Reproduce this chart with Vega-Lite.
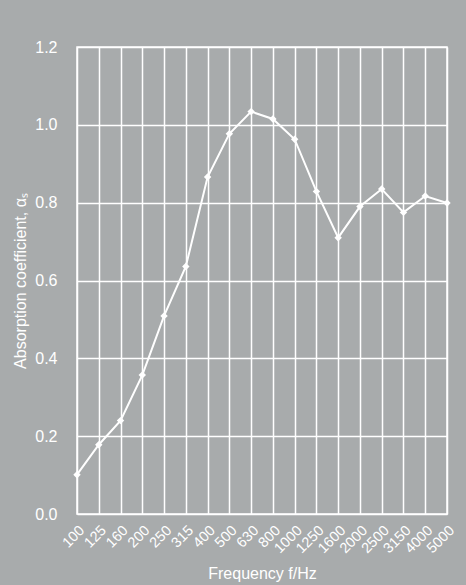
{
  "$schema": "https://vega.github.io/schema/vega-lite/v6.json",
  "autosize": "none",
  "width": 370,
  "height": 467,
  "padding": {"left": 77, "top": 47, "right": 19, "bottom": 71},
  "background": "#a8abac",
  "data": {
    "values": [
      {"f": "100", "a": 0.101},
      {"f": "125", "a": 0.178},
      {"f": "160", "a": 0.240},
      {"f": "200", "a": 0.357},
      {"f": "250", "a": 0.509},
      {"f": "315", "a": 0.636},
      {"f": "400", "a": 0.866},
      {"f": "500", "a": 0.977},
      {"f": "630", "a": 1.034},
      {"f": "800", "a": 1.015},
      {"f": "1000", "a": 0.963},
      {"f": "1250", "a": 0.829},
      {"f": "1600", "a": 0.710},
      {"f": "2000", "a": 0.790},
      {"f": "2500", "a": 0.835},
      {"f": "3150", "a": 0.775},
      {"f": "4000", "a": 0.817},
      {"f": "5000", "a": 0.799}
    ]
  },
  "encoding": {
    "x": {
      "field": "f", "type": "ordinal", "sort": null,
      "scale": {"type": "point", "padding": 0},
      "axis": {
        "title": "Frequency f/Hz", "labelAngle": -45, "ticks": false, "domain": false, "grid": true,
        "labelPadding": 9, "labelFontSize": 14.5, "titleFontSize": 16, "titleFontWeight": "normal",
        "labelColor": "white", "titleColor": "white", "labelFont": "Liberation Sans", "titleFont": "Liberation Sans",
        "gridColor": "white", "gridWidth": 1.5, "gridOpacity": 1, "titlePadding": 10
      }
    },
    "y": {
      "field": "a", "type": "quantitative",
      "scale": {"domain": [0, 1.2], "nice": false},
      "axis": {
        "title": "Absorption coefficient, αₛ", "values": [0, 0.2, 0.4, 0.6, 0.8, 1.0, 1.2], "format": ".1f",
        "ticks": false, "domain": false, "labelPadding": 20, "labelFontSize": 16, "titleFontSize": 16,
        "titleFontWeight": "normal", "labelColor": "white", "titleColor": "white",
        "labelFont": "Liberation Sans", "titleFont": "Liberation Sans",
        "gridColor": "white", "gridWidth": 1.5, "gridOpacity": 1, "titlePadding": 6
      }
    }
  },
  "layer": [
    {"mark": {"type": "line", "color": "white", "strokeWidth": 2}},
    {"mark": {"type": "point", "shape": "diamond", "filled": true, "color": "white", "opacity": 1, "size": 55}}
  ],
  "config": {"view": {"stroke": "white", "strokeWidth": 1.5}}
}
